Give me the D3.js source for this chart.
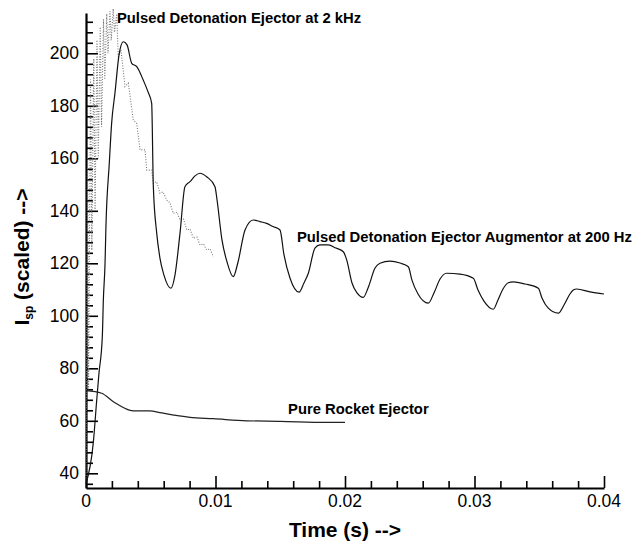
<!DOCTYPE html>
<html><head><meta charset="utf-8">
<script src="https://cdn.jsdelivr.net/npm/d3@7"></script>
<style>
html,body{margin:0;padding:0;background:#fff;}
svg{display:block;font-family:"Liberation Sans",Arial,Helvetica,sans-serif;}
</style></head>
<body><svg id="chart" width="640" height="543"></svg>
<script>
// ---- data (time in s, Isp scaled) ----
const augTime = [0,0.00056,0.00083,0.001,0.00126,0.00134,0.00147,0.00154,0.0018,0.00198,0.00224,0.00255,0.00288,0.00317,0.00353,0.00392,0.00442,0.00479,0.00507,0.0052,0.00546,0.00571,0.00602,0.00656,0.00687,0.00726,0.00764,0.00803,0.00842,0.0088,0.00934,0.00996,0.01012,0.0105,0.01089,0.01137,0.01174,0.01228,0.01292,0.01344,0.01395,0.01444,0.01498,0.01529,0.01575,0.01645,0.01683,0.01717,0.01768,0.01807,0.01871,0.0193,0.01987,0.02013,0.02054,0.02093,0.02141,0.02178,0.02232,0.0227,0.02347,0.02425,0.02489,0.02517,0.02564,0.02643,0.02687,0.02734,0.02785,0.02888,0.02991,0.03027,0.03073,0.03145,0.03181,0.0322,0.03261,0.033,0.0339,0.03493,0.03521,0.03568,0.03647,0.03691,0.03737,0.03763,0.03789,0.03892,0.04];
const augIsp = [36,51.5,68,78,92,106,120,134,158.2,173.4,185,199.4,204.4,203.2,196.2,194.9,189.8,185.3,181,149.2,131.5,122,115.5,110.5,115.5,131.5,149.2,151.1,153.3,154.3,152.9,149.2,144.1,128.9,120.5,114.9,120.5,132.7,136.5,135.9,135.2,134,132.7,123.2,114.4,109,112.5,116.2,125.8,127,127,125.8,124.4,121.3,112.5,108.7,107,110.6,118.2,120,120.8,120.1,118.7,113.6,108.3,104.8,108.7,114,116.2,115.9,114.3,109.8,105.6,102.5,106,110.2,112.6,112.9,112.1,110.5,106.8,103,101,104.1,108.3,109.8,110.2,109.1,108.3];

const pdeTime = [0,0.00012,0.0002,0.00035,0.00045,0.0006,0.0007,0.00085,0.00095,0.0011,0.0012,0.00135,0.00145,0.0016,0.0017,0.00185,0.00195,0.0021,0.0022,0.00237,0.00249,0.0027,0.00301,0.00327,0.00365,0.00392,0.00417,0.00456,0.00469,0.00507,0.0052,0.00546,0.00571,0.00595,0.00623,0.00649,0.00674,0.00703,0.00726,0.00753,0.00778,0.00803,0.00829,0.00857,0.0088,0.00907,0.00932,0.00958,0.00983];
const pdeIsp = [38,163,72,190,125,198,140,205,160,210,172,213,190,215,200,216,205,217,208,215,198.7,201.3,187.3,188.6,174.6,173.3,163.2,163.2,155.5,155.5,150.5,151.1,146.7,147.2,144.1,143,139,139.5,136.5,136.9,132.7,133.1,129.5,130,127,127.4,125.1,125.5,122.5];

const rocketTime = [0,0.00121,0.00211,0.00365,0.00494,0.00571,0.00803,0.00983,0.01241,0.01498,0.01859,0.02];
const rocketIsp = [71.5,70.5,67.3,63.8,63.8,63.1,61.3,60.8,60,59.8,59.4,59.4];

const xMajorTicks = [0,0.01,0.02,0.03,0.04];
const xTickLabels = ["0","0.01","0.02","0.03","0.04"];
const yMajorTicks = [40,60,80,100,120,140,160,180,200];
const yTickLabels = ["40","60","80","100","120","140","160","180","200"];

const seriesLabels = ["Pulsed Detonation Ejector at 2 kHz","Pulsed Detonation Ejector Augmentor at 200 Hz","Pure Rocket Ejector"];
const labelTime = [0.00239,0.01629,0.0156];
const labelIsp = [211.5,128.1,62.6];

// ---- drawing ----
const svg = d3.select("#chart");
const x = d3.scaleLinear().domain([0,0.04]).range([86,604]);
const y = d3.scaleLinear().domain([34.4,215.35]).range([488,13]);

const xMinor = d3.range(0,0.0401,0.002).filter(v=>!xMajorTicks.some(m=>Math.abs(m-v)<1e-9));
const yMinor = d3.range(36,213,4).filter(v=>v%20!==0);

// axes
const gx = svg.append("g").attr("transform","translate(0,488)");
gx.call(d3.axisTop(x).tickValues(xMinor).tickSize(7).tickFormat(""));
gx.call(g=>g.select(".domain").remove());
const gx2 = svg.append("g").attr("transform","translate(0,488)")
  .call(d3.axisTop(x).tickValues(xMajorTicks).tickSize(12).tickSizeOuter(0).tickFormat(""));
gx2.select(".domain").attr("stroke-width",2.2);

const gy = svg.append("g").attr("transform","translate(86,0)");
gy.call(d3.axisRight(y).tickValues(yMinor).tickSize(7).tickFormat(""));
gy.select(".domain").remove();
const gy2 = svg.append("g").attr("transform","translate(86,0)")
  .call(d3.axisRight(y).tickValues(yMajorTicks).tickSize(12).tickSizeOuter(0).tickFormat(""));
gy2.select(".domain").attr("stroke-width",2.2);
svg.selectAll(".tick line").attr("stroke","#000").attr("stroke-width",1.6);

// tick labels
svg.append("g").selectAll("text").data(xMajorTicks).join("text")
  .attr("x",d=>x(d)).attr("y",506.5).attr("text-anchor","middle")
  .attr("font-size","17.5px").attr("fill","#000")
  .text((d,i)=>xTickLabels[i]);
svg.append("g").selectAll("text").data(yMajorTicks).join("text")
  .attr("x",79).attr("y",d=>y(d)+6).attr("text-anchor","end")
  .attr("font-size","17.5px").attr("fill","#000")
  .text((d,i)=>yTickLabels[i]);

// lines
const line = d3.line().x(d=>x(d[0])).y(d=>y(d[1]));
const smooth = d3.line().x(d=>x(d[0])).y(d=>y(d[1])).curve(d3.curveMonotoneX);
svg.append("path").datum(pdeTime.map((t,i)=>[t,pdeIsp[i]]))
  .attr("d",line).attr("fill","none").attr("stroke","#777")
  .attr("stroke-width",1.1).attr("stroke-dasharray","1,1.6");
svg.append("path").datum(augTime.map((t,i)=>[t,augIsp[i]]))
  .attr("d",smooth).attr("fill","none").attr("stroke","#111").attr("stroke-width",1.2);
svg.append("path").datum(rocketTime.map((t,i)=>[t,rocketIsp[i]]))
  .attr("d",smooth).attr("fill","none").attr("stroke","#222").attr("stroke-width",1.2);

// series labels
svg.append("g").selectAll("text").data(seriesLabels).join("text")
  .attr("x",(d,i)=>x(labelTime[i])).attr("y",(d,i)=>y(labelIsp[i]))
  .attr("font-size","14.8px").attr("font-weight","bold").attr("fill","#000")
  .text(d=>d);

// axis titles
svg.append("text").attr("x",345).attr("y",537).attr("text-anchor","middle")
  .attr("font-size","21px").attr("font-weight","bold").text("Time (s) -->");
const yt = svg.append("text").attr("transform","translate(29,257) rotate(-90)")
  .attr("text-anchor","middle").attr("font-size","21px").attr("font-weight","bold");
yt.append("tspan").text("I");
yt.append("tspan").attr("font-size","12px").attr("dy",4).text("sp");
yt.append("tspan").attr("dy",-4).text(" (scaled) -->");
</script></body></html>
